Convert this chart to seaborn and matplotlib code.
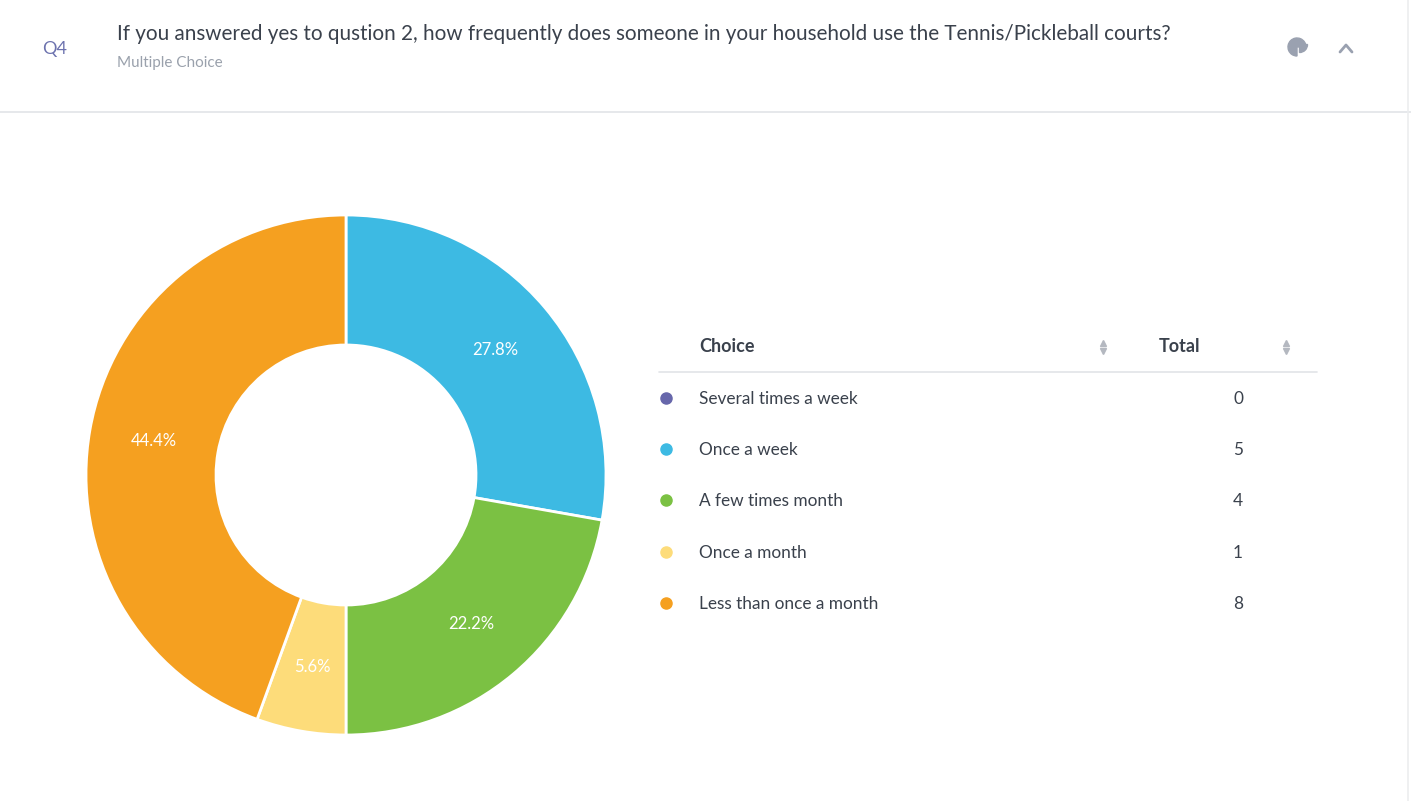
import matplotlib
matplotlib.use("Agg")
import matplotlib.pyplot as plt
import matplotlib.patches as mpatches
import seaborn as sns

# survey data
choices = ["Several times a week", "Once a week", "A few times month",
           "Once a month", "Less than once a month"]
totals = [0, 5, 4, 1, 8]
colors = ["#6767AB", "#3DBAE3", "#7BC143", "#FDDC7A", "#F5A020"]

question = ("If you answered yes to qustion 2, how frequently does someone "
            "in your household use the Tennis/Pickleball courts?")
q_label = "Q4"
q_type = "Multiple Choice"

W, H = 1411, 801

sns.set_theme(style="white")
plt.rcParams["font.family"] = ["Lato", "DejaVu Sans"]

fig = plt.figure(figsize=(W / 100, H / 100), dpi=100)
fig.patch.set_facecolor("white")

# overlay in pixel coordinates for header and table
ov = fig.add_axes([0, 0, 1, 1])
ov.set_xlim(0, W)
ov.set_ylim(H, 0)
ov.axis("off")

dark = "#3A414C"
grey = "#9AA1AC"

ov.text(42, 49, q_label, fontsize=13, color="#6C72AE", va="center", ha="left")
ov.text(117, 34, question, fontsize=14.9, color=dark, va="center", ha="left")
ov.text(117, 63, q_type, fontsize=11, color=grey, va="center", ha="left")
ov.plot([0, W], [112, 112], color="#E2E4E8", lw=1.2)
ov.plot([W - 3, W - 3], [0, H], color="#ECEDEF", lw=1.2)

# pie icon and chevron
ov.add_patch(mpatches.Wedge((1297, 47), 9, 90, 360, color="#9AA1B0"))
ov.add_patch(mpatches.Wedge((1299.5, 44.5), 8, 0, 90, color="#9AA1B0"))
ov.plot([1340, 1346, 1352], [52, 45, 52], color="#9AA1B0", lw=2,
        solid_capstyle="round", solid_joinstyle="round")

# donut chart
pie_ax = fig.add_axes([86 / W, (H - 735) / H, 520 / W, 520 / H])


def pct_label(p):
    return "" if p == 0 else f"{p:.1f}%"


wedges, _, autotexts = pie_ax.pie(
    totals, colors=colors, startangle=90, counterclock=False,
    autopct=pct_label, pctdistance=0.75,
    wedgeprops=dict(width=0.5, edgecolor="white", linewidth=2),
    textprops=dict(color="white", fontsize=12))
pie_ax.set_xlim(-1, 1)
pie_ax.set_ylim(-1, 1)
pie_ax.set_aspect("equal")

# table legend
ov.text(699, 347, "Choice", fontsize=13, color=dark, fontweight="bold",
        va="center", ha="left")
ov.text(1159, 347, "Total", fontsize=13, color=dark, fontweight="bold",
        va="center", ha="left")
for ax_x in (1103, 1286):
    ov.plot(ax_x, 342.5, marker="^", color="#B4B8C0", markersize=4)
    ov.plot(ax_x, 350.5, marker="v", color="#B4B8C0", markersize=4)
ov.plot([659, 1317], [372, 372], color="#E2E4E8", lw=1.2)

row_y = [398, 449, 500, 552, 603]
for name, val, col, y in zip(choices, totals, colors, row_y):
    ov.plot(666, y, marker="o", color=col, markersize=8)
    ov.text(699, y + 1, name, fontsize=12.4, color=dark, va="center", ha="left")
    ov.text(1238, y + 1, str(val), fontsize=12.4, color=dark, va="center",
            ha="center")

fig.savefig("out.png", dpi=100, facecolor="white")
